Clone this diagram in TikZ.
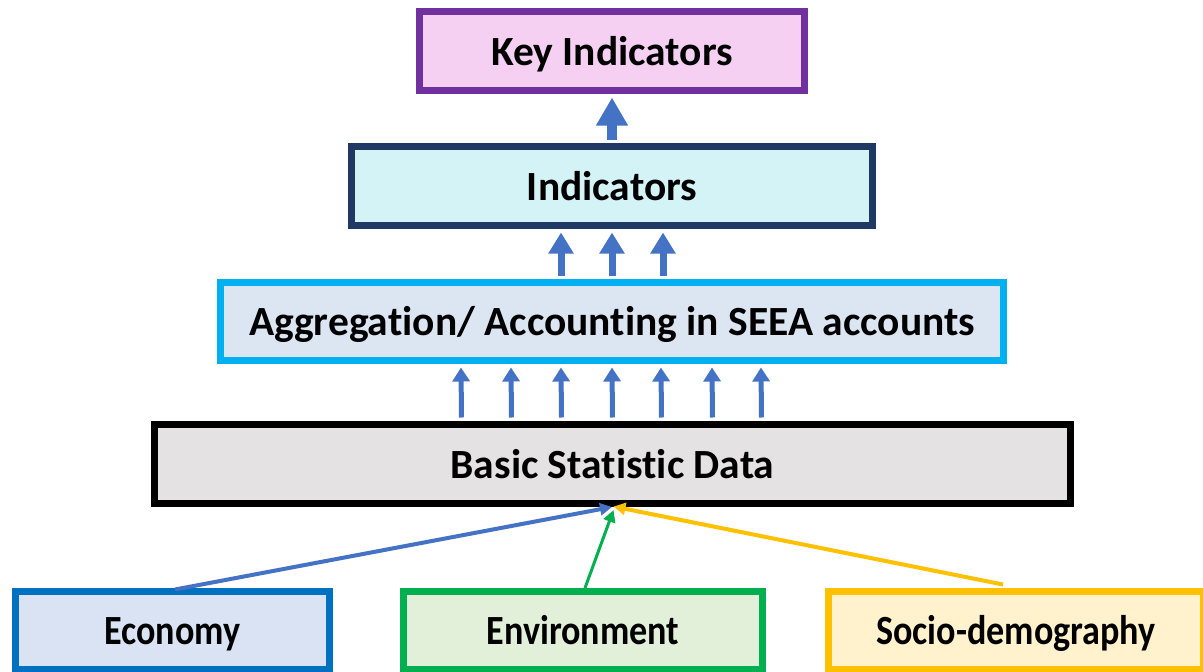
\documentclass[tikz,border=0pt]{standalone}
\usepackage{fontspec}
\usepackage{graphicx}
\setmainfont[Ligatures=NoCommon]{Carlito}
\usetikzlibrary{arrows.meta}
\definecolor{kpurple}{HTML}{7030A0}
\definecolor{kfill}{HTML}{F5D0F2}
\definecolor{inavy}{HTML}{203864}
\definecolor{ifill}{HTML}{D3F3F7}
\definecolor{acyan}{HTML}{00B0F0}
\definecolor{afill}{HTML}{DCE6F2}
\definecolor{bfill}{HTML}{E4E2E2}
\definecolor{eblue}{HTML}{0070C0}
\definecolor{efill}{HTML}{DAE3F3}
\definecolor{ngreen}{HTML}{00B050}
\definecolor{nfill}{HTML}{E2F0D9}
\definecolor{syellow}{HTML}{FFC000}
\definecolor{sfill}{HTML}{FFF2CC}
\definecolor{arrblue}{HTML}{4472C4}
\newcommand{\narrowtext}[1]{\scalebox{0.87}[1]{#1}}
\begin{document}
\begin{tikzpicture}[x=1pt,y=-1pt,
  box/.style={draw, line width=7pt, inner sep=0pt, text=black,
    text height=37pt, text depth=9pt,
    font=\fontsize{41.5}{48}\selectfont\bfseries},
  bigarrow/.style={draw=arrblue, line width=10.5pt, -{Triangle[width=30pt,length=28pt]}},
  midarrow/.style={draw=arrblue, line width=7pt, -{Triangle[width=24pt,length=21pt]}},
  smallarrow/.style={draw=arrblue, line width=5pt, -{Triangle[width=17pt,length=14pt]}},
  feed/.style={-{Triangle[width=12pt,length=12pt]}}]
\clip (0,0) rectangle (1203,672);
\fill[white] (0,0) rectangle (1203,672);
\node[box, draw=kpurple, fill=kfill, minimum width=385pt, minimum height=79pt] (key) at (612,51) {Key Indicators};
\node[box, draw=inavy, fill=ifill, minimum width=521pt, minimum height=79pt] (ind) at (612,186) {Indicators};
\node[box, draw=acyan, fill=afill, minimum width=783pt, minimum height=78pt] (agg) at (612,321.5) {Aggregation/ Accounting in SEEA accounts};
\node[box, draw=black, fill=bfill, minimum width=916pt, minimum height=79pt] (basic) at (612.5,464) {Basic Statistic Data};
\node[box, draw=eblue, fill=efill, minimum width=314pt, minimum height=78pt] (eco) at (172.5,630.5) {\narrowtext{Economy}};
\node[box, draw=ngreen, fill=nfill, minimum width=359pt, minimum height=78pt] (env) at (583,630.5) {\narrowtext{Environment}};
\node[box, draw=syellow, fill=sfill, minimum width=375pt, minimum height=78pt] (soc) at (1016,630.5) {\narrowtext{Socio-demography}};
% arrows
\draw[bigarrow] ([yshift=3.5pt]ind.north) -- ([yshift=-3.5pt]key.south);
\foreach \dx in {-51,0,51}
  \draw[midarrow] ([xshift=\dx pt,yshift=3.5pt]agg.north) -- ([xshift=\dx pt,yshift=-3.5pt]ind.south);
\foreach \dx in {-151,-101,-51,0,49,100,149}
  \draw[smallarrow] ([xshift=\dx pt,yshift=3.5pt]basic.north) -- ([xshift=\dx pt,yshift=-3.5pt]agg.south);
\draw[feed, draw=arrblue, line width=4pt] ([xshift=2.5pt,yshift=-1.5pt]eco.north) -- ([xshift=-0.5pt]basic.south);
\draw[feed, draw=ngreen, line width=3pt] ([xshift=2pt]env.north) -- ([xshift=1pt,yshift=-3pt]basic.south);
\draw[feed, draw=syellow, line width=4pt] ([xshift=-13pt,yshift=3.5pt]soc.north) -- ([xshift=1pt,yshift=0.5pt]basic.south);
\end{tikzpicture}
\end{document}
